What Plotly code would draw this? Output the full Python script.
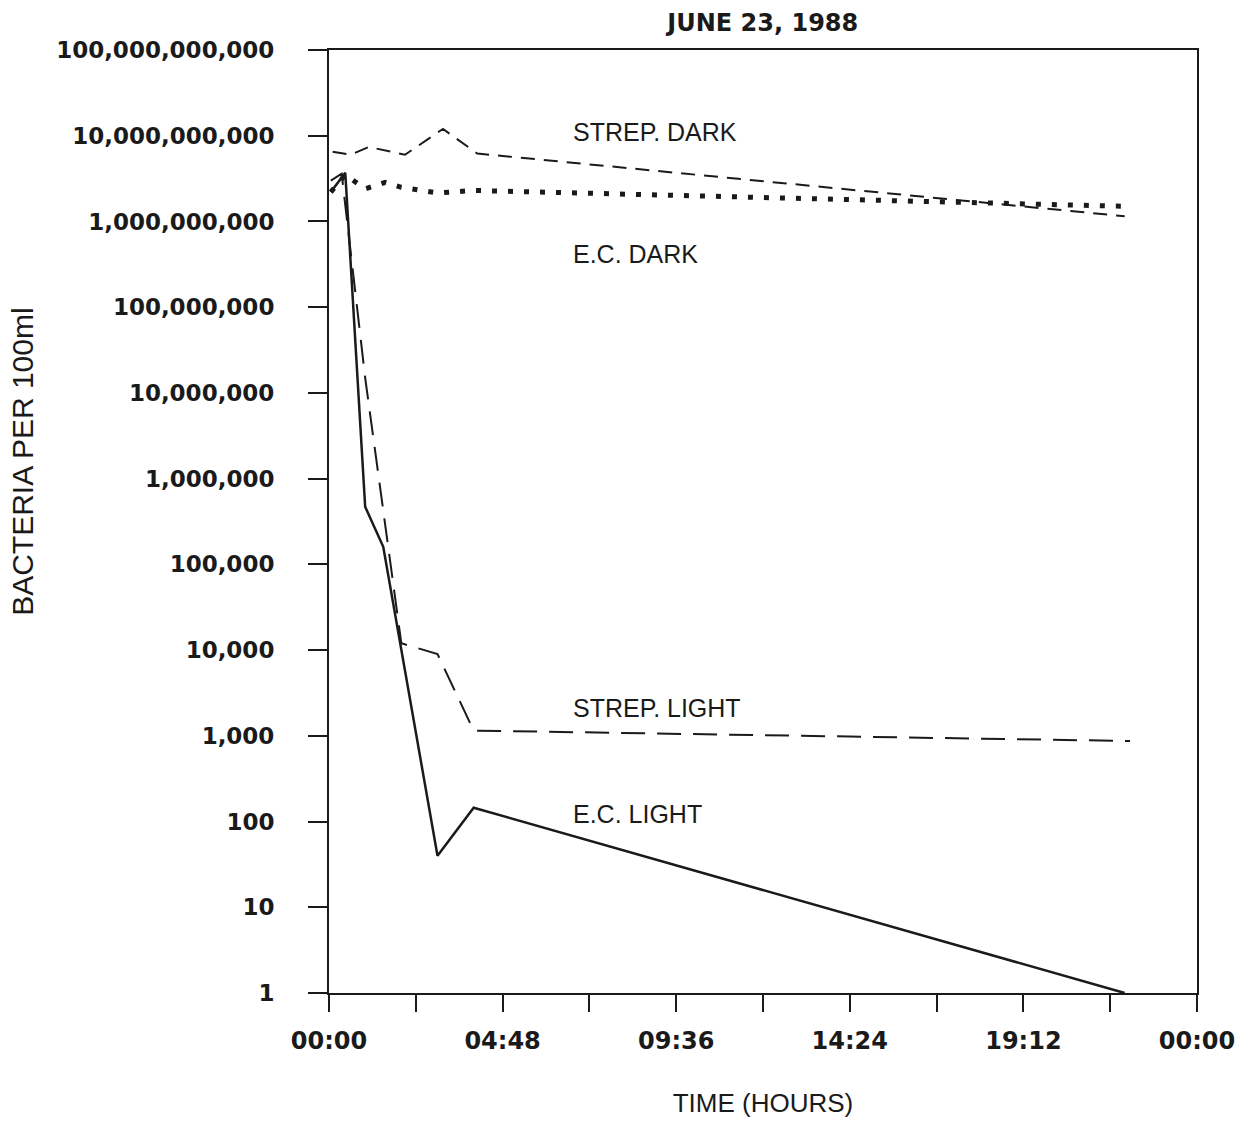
import math
import plotly.graph_objects as go

# Sampling times (hours after start) and counts (bacteria per 100 ml)
hours_ec_light = [0.05, 0.45, 1.0, 1.5, 3.0, 4.0, 22.0]
ec_light = [2.2e9, 3.7e9, 4.7e5, 1.6e5, 40, 145, 1]

hours_strep_light = [0.05, 0.35, 1.0, 2.0, 3.0, 4.0, 22.15]
strep_light = [3.0e9, 3.6e9, 1.5e7, 1.2e4, 9.0e3, 1.15e3, 870]

hours_strep_dark = [0.1, 0.6, 1.1, 2.1, 3.15, 4.1, 22.0]
strep_dark = [6.5e9, 6.0e9, 7.4e9, 6.0e9, 1.2e10, 6.2e9, 1.15e9]

hours_ec_dark = [0.05, 0.45, 1.0, 1.55, 2.0, 3.0, 4.0, 22.05]
ec_dark = [2.2e9, 3.5e9, 2.4e9, 2.85e9, 2.5e9, 2.15e9, 2.3e9, 1.5e9]

# Axis ticks
x_tick_hours = [0, 2.4, 4.8, 7.2, 9.6, 12.0, 14.4, 16.8, 19.2, 21.6, 24.0]
x_tick_text = ["00:00", "", "04:48", "", "09:36", "", "14:24", "", "19:12", "", "00:00"]
y_tick_vals = [10 ** k for k in range(12)]
y_tick_text = ["1", "10", "100", "1,000", "10,000", "100,000", "1,000,000",
               "10,000,000", "100,000,000", "1,000,000,000",
               "10,000,000,000", "100,000,000,000"]

# Series labels placed beside the curves
label_text = ["STREP. DARK", "E.C. DARK", "STREP. LIGHT", "E.C. LIGHT"]
label_hours = [6.7, 6.7, 6.7, 6.7]
label_values = [1.1e10, 4.2e8, 2.1e3, 123]

ink = "#1a1a1a"
fig = go.Figure()

fig.add_trace(go.Scatter(x=hours_strep_dark, y=strep_dark, mode="lines",
                         line=dict(color=ink, width=2, dash="14px,9px")))
fig.add_trace(go.Scatter(x=hours_ec_dark, y=ec_dark, mode="lines",
                         line=dict(color=ink, width=5, dash="5px,11px")))
fig.add_trace(go.Scatter(x=hours_strep_light, y=strep_light, mode="lines",
                         line=dict(color=ink, width=2, dash="24px,12px")))
fig.add_trace(go.Scatter(x=hours_ec_light, y=ec_light, mode="lines",
                         line=dict(color=ink, width=2.5)))

# annotations on a log axis take the exponent as their y position
for txt, hx, vy in zip(label_text, label_hours, label_values):
    fig.add_annotation(x=hx, y=math.log10(vy), yref="y", xref="x", text=txt,
                       showarrow=False, xanchor="left", yanchor="middle",
                       font=dict(family="Liberation Sans", size=25, color=ink))

# vertical axis caption, set a little above the middle of the axis
fig.add_annotation(x=-0.354, y=0.563, xref="paper", yref="paper",
                   text="BACTERIA PER 100ml", textangle=-90, showarrow=False,
                   xanchor="center", yanchor="middle",
                   font=dict(family="Liberation Sans", size=30, color=ink))

fig.update_layout(
    width=1247, height=1125,
    margin=dict(l=329, r=50, t=50, b=132),
    paper_bgcolor="white", plot_bgcolor="white",
    showlegend=False,
    title=dict(text="JUNE 23, 1988", x=0.6117, xanchor="center", y=0.980, yanchor="middle",
               font=dict(family="DejaVu Sans", size=24, color=ink, weight="bold")),
)

fig.update_xaxes(
    range=[0, 24], tickmode="array", tickvals=x_tick_hours, ticktext=x_tick_text,
    showgrid=False, zeroline=False, showline=True, linecolor=ink, linewidth=2,
    mirror=True, ticks="outside", ticklen=17, tickwidth=2, tickcolor=ink,
    tickfont=dict(family="DejaVu Sans", size=24, color=ink, weight="bold"),
    ticklabelstandoff=8,
    title=dict(text="TIME (HOURS)", standoff=40,
               font=dict(family="Liberation Sans", size=26, color=ink)),
)

fig.update_yaxes(
    type="log", range=[0, 11], tickmode="array", tickvals=y_tick_vals,
    ticktext=y_tick_text, showgrid=False, zeroline=False, showline=True,
    linecolor=ink, linewidth=2, mirror=True, ticks="outside", ticklen=19,
    tickwidth=2, tickcolor=ink,
    tickfont=dict(family="DejaVu Sans", size=23, color=ink, weight="bold"),
    ticklabelstandoff=29,
)

fig.write_html("out.html")
